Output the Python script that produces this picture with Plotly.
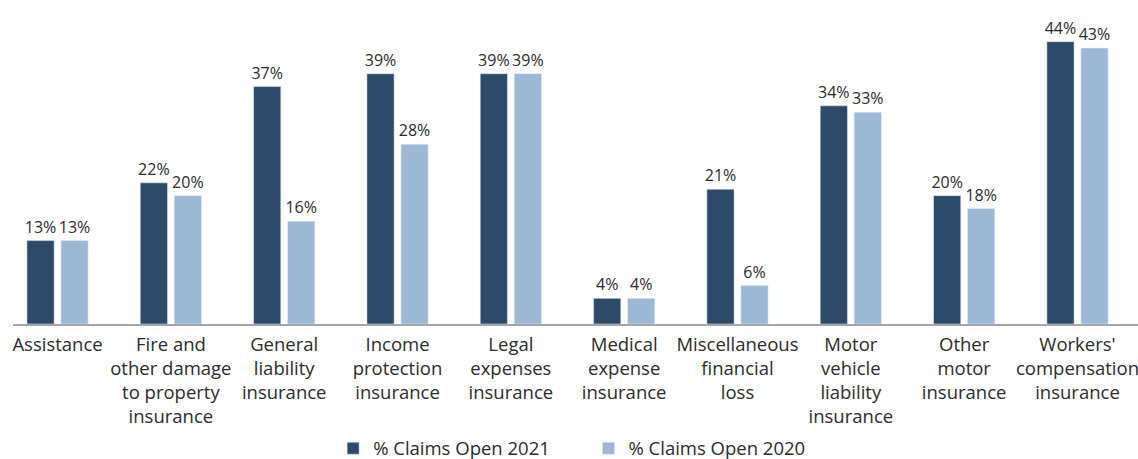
import plotly.graph_objects as go

categories = [
    "Assistance",
    "Fire and<br>other damage<br>to property<br>insurance",
    "General<br>liability<br>insurance",
    "Income<br>protection<br>insurance",
    "Legal<br>expenses<br>insurance",
    "Medical<br>expense<br>insurance",
    "Miscellaneous<br>financial<br>loss",
    "Motor<br>vehicle<br>liability<br>insurance",
    "Other<br>motor<br>insurance",
    "Workers'<br>compensation<br>insurance",
]
open_2021 = [13, 22, 37, 39, 39, 4, 21, 34, 20, 44]
open_2020 = [13, 20, 16, 28, 39, 4, 6, 33, 18, 43]
series_names = ["% Claims Open 2021", "% Claims Open 2020"]

FONT = "Open Sans"
TEXT = "#2b2b2b"
PAD = "\u00a0" * 7

fig = go.Figure()
fig.add_trace(go.Bar(
    x=categories, y=open_2021, name=series_names[0] + PAD,
    marker_color="#2e4a69",
    texttemplate="%{y}%", textposition="outside", constraintext="none",
    textfont=dict(size=16, color=TEXT, family=FONT), cliponaxis=False,
))
fig.add_trace(go.Bar(
    x=categories, y=open_2020, name=series_names[1],
    marker_color="#9db8d4",
    texttemplate="%{y}%", textposition="outside", constraintext="none",
    textfont=dict(size=16, color=TEXT, family=FONT), cliponaxis=False,
))

fig.update_layout(
    width=1138, height=459,
    margin=dict(l=13, r=0, t=16, b=135, autoexpand=False),
    barmode="group", bargap=0.40, bargroupgap=0.2,
    plot_bgcolor="white", paper_bgcolor="white",
    font=dict(family=FONT, color=TEXT, size=18.5),
    showlegend=True,
    legend=dict(orientation="h", x=0.497, xanchor="center",
                y=-0.405, yanchor="middle",
                font=dict(size=18.5, color=TEXT), traceorder="normal"),
)
fig.update_xaxes(
    range=[-0.393, 9.534], showline=True, linecolor="#a6a6a6", linewidth=2,
    ticks="", showgrid=False, tickfont=dict(size=18.5, color=TEXT),
    automargin=False, ticklabelstandoff=3,
)
fig.update_yaxes(range=[0, 48], visible=False, showgrid=False, automargin=False)

fig.write_html("out.html", config={"displayModeBar": False},
               post_script="document.body.style.margin='0';")
